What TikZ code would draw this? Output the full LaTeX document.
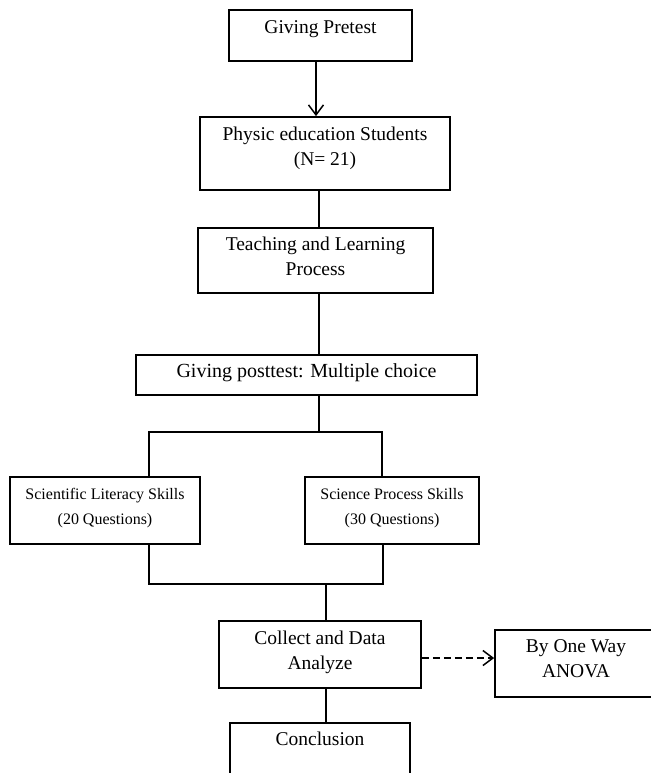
\documentclass[tikz,border=0pt]{standalone}
\usepackage{fontspec}
\setmainfont{Liberation Serif}
\usetikzlibrary{arrows.meta}
\tikzset{
  box/.style={draw, line width=1.7pt, align=center, inner sep=0pt,
    font=\fontsize{19.5}{25}\selectfont},
  smallbox/.style={box, font=\fontsize{16}{24.5}\selectfont},
  link/.style={line width=1.7pt},
  headarrow/.style={link, -{Straight Barb[length=10pt,width=15pt,line width=1.5pt]}},
  dasharrow/.style={headarrow, dash pattern=on 7pt off 4pt}
}
\begin{document}
\begin{tikzpicture}[x=1pt,y=-1pt]
\useasboundingbox (0,0) rectangle (650,773);
\node[box, minimum width=183pt, minimum height=51pt, text depth=17.6pt] (pre) at (320.5,35.5) {Giving Pretest};
\node[box, minimum width=250pt, minimum height=73pt, text depth=15.2pt] (phy) at (325,153.5) {Physic education Students\\(N= 21)};
\node[box, minimum width=235pt, minimum height=65pt, text depth=7.6pt] (teach) at (315.5,260.5) {Teaching and Learning\\Process};
\node[box, minimum width=341pt, minimum height=40pt, text depth=9.8pt, font=\fontsize{20}{25}\selectfont] (post) at (306.5,375) {Giving posttest: Multiple choice};
\node[smallbox, minimum width=190pt, minimum height=67pt, text depth=7.9pt] (sls) at (105,510.5) {Scientific Literacy Skills\\(20 Questions)};
\node[smallbox, minimum width=174pt, minimum height=67pt, text depth=7.9pt] (sps) at (392,510.5) {Science Process Skills\\(30 Questions)};
\node[box, minimum width=202pt, minimum height=67pt, text depth=8.7pt] (col) at (320,654.5) {Collect and Data\\Analyze};
\node[box, minimum width=300pt, minimum height=67pt, text depth=10pt] (anova) at (645,663.5) {By One Way\hspace*{138pt}\\ANOVA\hspace*{138pt}};
\node[box, minimum width=180pt, minimum height=60pt, text depth=28pt] (conc) at (320,753) {Conclusion};
% spine coordinates
\coordinate (a1) at (316,0);
\coordinate (spine) at (319,0);
\coordinate (split) at (319,432);
\coordinate (splitL) at (149,432);
\coordinate (splitR) at (382,432);
\coordinate (joinL) at (149,584);
\coordinate (joinR) at (383,584);
\coordinate (join) at (326,584);
\coordinate (dashY) at (0,658);
% connectors
\draw[headarrow] (pre.south -| a1) -- (phy.north -| a1);
\draw[link] (phy.south -| spine) -- (teach.north -| spine);
\draw[link] (teach.south -| spine) -- (post.north -| spine);
\draw[link] (post.south -| spine) -- (split);
\draw[link] (sls.north -| splitL) -- (splitL) -- (splitR) -- (sps.north -| splitR);
\draw[link] (sls.south -| joinL) -- (joinL) -- (joinR) -- (sps.south -| joinR);
\draw[link] (join) -- (col.north -| join);
\draw[link] (col.south -| join) -- (conc.north -| join);
\draw[dasharrow] (col.east |- dashY) -- (anova.west |- dashY);
\end{tikzpicture}
\end{document}
